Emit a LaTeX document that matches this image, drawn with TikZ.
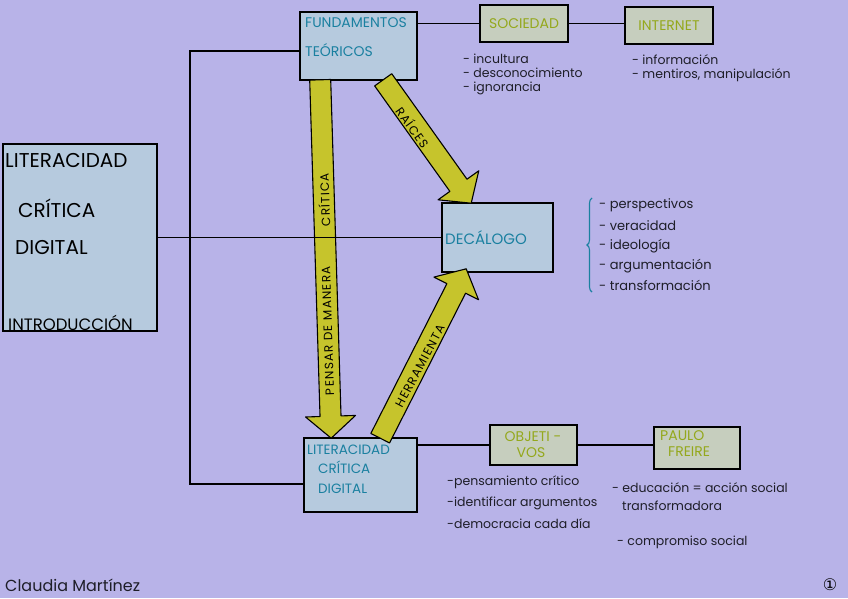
\documentclass[tikz,border=0pt]{standalone}
\usepackage{fontspec}
\setmainfont{Poppins}
\newfontfamily\symf{DejaVu Sans}
\newfontfamily\spaced[LetterSpace=10]{Poppins}
\usetikzlibrary{calc,decorations.pathreplacing}
\definecolor{bg}{RGB}{184,179,232}
\definecolor{bluebox}{RGB}{182,202,222}
\definecolor{greenbox}{RGB}{198,206,190}
\definecolor{tealtxt}{RGB}{26,128,160}
\definecolor{olivetxt}{RGB}{148,168,28}
\definecolor{arrowfill}{RGB}{198,196,44}
\definecolor{inktxt}{RGB}{30,30,40}
\tikzset{
  box/.style={draw=black, line width=1.6pt, inner sep=0pt},
  bluebx/.style={box, fill=bluebox},
  greenbx/.style={box, fill=greenbox},
  conn/.style={draw=black, line width=1.1pt},
  arrowst/.style={draw=black, line width=1.1pt, fill=arrowfill, line join=round},
  bigtxt/.style={anchor=west, inner sep=0pt, text=black, font=\fontsize{20}{20}\selectfont},
  headtxt/.style={anchor=west, inner sep=0pt, text=tealtxt, font=\fontsize{14}{14}\selectfont},
  greentxt/.style={inner sep=0pt, text=olivetxt, font=\fontsize{14}{14}\selectfont},
  listtxt/.style={anchor=west, inner sep=0pt, text=inktxt, font=\fontsize{12.5}{12.5}\selectfont},
  arrtxt/.style={inner sep=0pt, text=black, font=\spaced\fontsize{12}{12}\selectfont},
}
\newcommand\fatarr[2]{%
  \coordinate (fh) at ($(#2)!22pt!(#1)$);
  \draw[arrowst] ($(#1)!10.5pt!90:(#2)$) -- ($(fh)!10.5pt!90:(#2)$) -- ($(fh)!25pt!90:(#2)$) -- (#2)
     -- ($(fh)!25pt!-90:(#2)$) -- ($(fh)!10.5pt!-90:(#2)$) -- ($(#1)!10.5pt!-90:(#2)$) -- cycle;}
\begin{document}
\begin{tikzpicture}[x=1pt,y=-1pt]
\useasboundingbox (0,0) rectangle (848,598);
\fill[bg] (0,0) rectangle (848,598);

% boxes
\node[bluebx, minimum width=154pt, minimum height=187pt] (lit) at (80,237.5) {};
\node[bluebx, minimum width=117pt, minimum height=68pt] (fund) at (358.5,46) {};
\node[greenbx, minimum width=88pt, minimum height=37pt] (soc) at (524,23.5) {};
\node[greenbx, minimum width=88pt, minimum height=37pt] (int) at (669,25.5) {};
\node[bluebx, minimum width=111pt, minimum height=69pt] (dec) at (497.5,237.5) {};
\node[bluebx, minimum width=113pt, minimum height=74pt] (lcd) at (360.5,475) {};
\node[greenbx, minimum width=87pt, minimum height=40pt] (obj) at (533.5,445) {};
\node[greenbx, minimum width=86pt, minimum height=42pt] (paulo) at (697,448) {};

% fat arrows
\coordinate (a1s) at ($(fund.south west)+(21,-1)$);
\coordinate (a1e) at ($(lcd.north west)+(28,1)$);
\coordinate (a2s) at ($(fund.south west)+(84,-1)$);
\coordinate (a2e) at ($(dec.north west)+(30,1)$);
\coordinate (a3s) at ($(lcd.north west)+(77,1)$);
\coordinate (a3e) at ($(dec.south west)+(25,-4)$);
\fatarr{a1s}{a1e}
\fatarr{a2s}{a2e}
\fatarr{a3s}{a3e}

% connectors
\coordinate (j1) at (190,51);
\coordinate (j2) at (190,484);
\draw[conn] (fund.west |- j1) -- (j1) -- (j2) -- (lcd.west |- j2);
\draw[conn] (lit.east) -- (dec.west);
\draw[conn] (soc.west) -- (soc.west -| fund.east);
\draw[conn] (soc.east) -- (soc.east -| int.west);
\draw[conn] (obj.west) -- (obj.west -| lcd.east);
\draw[conn] (obj.east) -- (obj.east -| paulo.west);

% arrow labels
\node[arrtxt, rotate=91.8] (l1a) at ($(a1s)!0.70!(a1e)$) {PENSAR DE MANERA};
\node[arrtxt, rotate=91.8] (l1b) at ($(a1s)!0.335!(a1e)$) {CRÍTICA};
\node[arrtxt, rotate=-54.4] (l2) at (413,127) {RAÍCES};
\node[arrtxt, rotate=61.9] (l3) at (420,366) {HERRAMIENTA};

% box texts
\node[bigtxt] (t1) at (5,160) {LITERACIDAD};
\node[bigtxt] (t2) at (18,208) {CRÍTICA};
\node[bigtxt] (t3) at (15,248) {DIGITAL};
\node[bigtxt, font=\fontsize{16.5}{16.5}\selectfont] (t4) at (8,323) {INTRODUCCIÓN};

\node[headtxt] (t5) at (305,23) {FUNDAMENTOS};
\node[headtxt] (t6) at (305,50) {TEÓRICOS};
\node[greentxt] (t7) at (soc) {SOCIEDAD};
\node[greentxt] (t8) at (int) {INTERNET};
\node[headtxt, font=\fontsize{15}{15}\selectfont] (t9) at (445,238) {DECÁLOGO};
\node[headtxt, font=\fontsize{13.5}{13.5}\selectfont] (t10) at (307,450) {LITERACIDAD};
\node[headtxt, font=\fontsize{13.5}{13.5}\selectfont] (t11) at (318,467) {CRÍTICA};
\node[headtxt, font=\fontsize{13.5}{13.5}\selectfont] (t12) at (318,489) {DIGITAL};
\node[greentxt] (t13) at (533,437) {OBJETI -};
\node[greentxt] (t14) at (531,453) {VOS};
\node[greentxt, anchor=west] (t15) at (660,436) {PAULO};
\node[greentxt, anchor=west] (t16) at (668,452) {FREIRE};

% lists
\node[listtxt] (s1) at (463,59) {- incultura};
\node[listtxt] (s2) at (463,73) {- desconocimiento};
\node[listtxt] (s3) at (463,88) {- ignorancia};
\node[listtxt] (i1) at (632,60) {- información};
\node[listtxt] (i2) at (632,75) {- mentiros, manipulación};

\draw[tealtxt, line width=1.1pt, decorate, decoration={brace, amplitude=5pt}] (592,292) -- (592,198);
\node[listtxt, font=\fontsize{13}{13}\selectfont] (d1) at (599,205) {- perspectivos};
\node[listtxt, font=\fontsize{13}{13}\selectfont] (d2) at (599,226) {- veracidad};
\node[listtxt, font=\fontsize{13}{13}\selectfont] (d3) at (599,246) {- ideología};
\node[listtxt, font=\fontsize{13}{13}\selectfont] (d4) at (599,266) {- argumentación};
\node[listtxt, font=\fontsize{13}{13}\selectfont] (d5) at (599,285) {- transformación};

\node[listtxt] (o1) at (447,482) {-pensamiento crítico};
\node[listtxt] (o2) at (447,503) {-identificar argumentos};
\node[listtxt] (o3) at (447,524) {-democracia cada día};
\node[listtxt] (p1) at (612,488) {- educación = acción social};
\node[listtxt] (p2) at (622,506) {transformadora};
\node[listtxt] (p3) at (617,542) {- compromiso social};

\node[listtxt, font=\fontsize{16}{16}\selectfont] (sig) at (5,585) {Claudia Martínez};
\node[inner sep=0pt, font=\symf\fontsize{16}{16}\selectfont] (pg) at (830,585) {①};
\end{tikzpicture}
\end{document}
